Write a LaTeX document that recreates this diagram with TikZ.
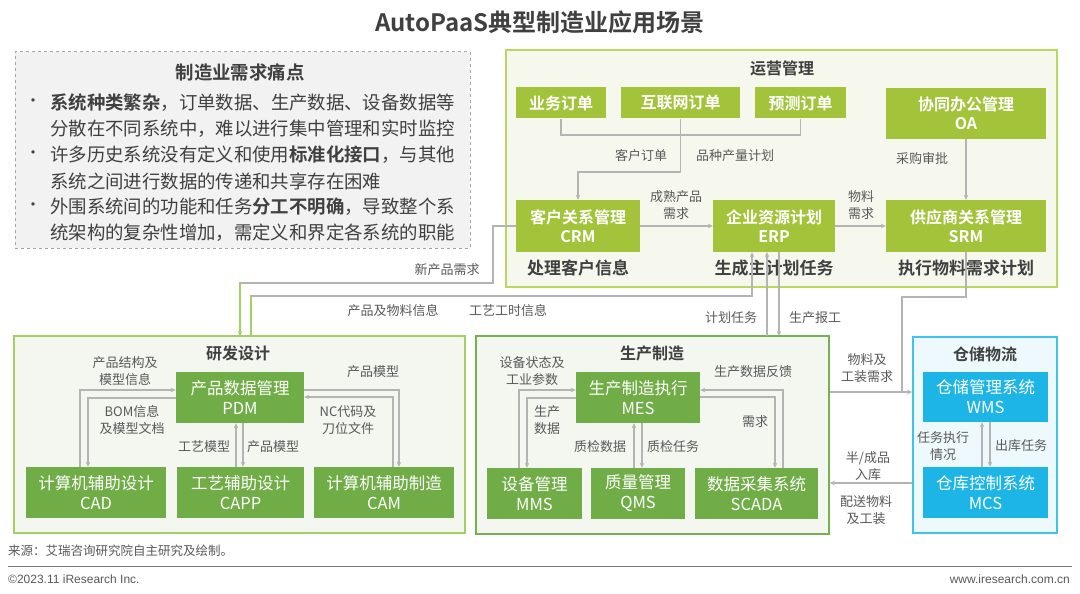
\documentclass[tikz,border=0pt]{standalone}
\usepackage{fontspec}
\setmainfont{Noto Sans CJK SC}[BoldFont={Noto Sans CJK SC Bold}]
\newfontfamily\latinf{Liberation Sans}
\usetikzlibrary{arrows.meta}
\definecolor{ygreen}{HTML}{A3C43A}
\definecolor{opsb}{HTML}{BCD75E}
\definecolor{opsf}{HTML}{F6F8EE}
\definecolor{mgreen}{HTML}{70AD47}
\definecolor{rdb}{HTML}{A2D062}
\definecolor{pmb}{HTML}{76B150}
\definecolor{gfill}{HTML}{F3F7EF}
\definecolor{cyanb}{HTML}{1DB4E6}
\definecolor{whb}{HTML}{3CC4EE}
\definecolor{whf}{HTML}{EDF9FD}
\definecolor{lgray}{HTML}{B4B4B4}
\definecolor{lblgray}{HTML}{595959}
\definecolor{darkt}{HTML}{404040}
\definecolor{painf}{HTML}{F2F2F2}
\definecolor{paind}{HTML}{A6A6A6}
\newcommand{\myfs}[2]{\fontsize{#1}{#2}\selectfont}
\begin{document}
\begin{tikzpicture}[x=1pt,y=-1pt,
  ybox/.style={fill=ygreen,text=white,font=\myfs{16}{19.5}\bfseries,inner sep=0pt,align=center},
  gbox/.style={fill=mgreen,text=white,font=\myfs{16.5}{20},inner sep=0pt,align=center},
  cbox/.style={fill=cyanb,text=white,font=\myfs{16.5}{20},inner sep=0pt,align=center},
  lbl/.style={text=lblgray,font=\myfs{13}{16.5},align=center,inner sep=0pt},
  sub/.style={text=darkt,font=\myfs{17}{20}\bfseries,inner sep=0pt},
  ttl/.style={text=darkt,font=\myfs{16}{19}\bfseries,inner sep=0pt},
  conn/.style={draw=lgray,line width=1.2pt},
  arr/.style={conn,-{Stealth[length=5pt,width=4.5pt]}},
  frame/.style={inner sep=0pt,line width=1.5pt},
  painline/.style={text=darkt,font=\myfs{18.4}{22},anchor=west,inner sep=0pt}]
\fill[white] (0,0) rectangle (1080,594);
\useasboundingbox (0,0) rectangle (1080,594);

% title
\node[text=darkt,font=\myfs{24}{28}\bfseries,inner sep=0pt] (title) at (540,22) {AutoPaaS典型制造业应用场景};

% pain points box
\node[draw=paind,dashed,fill=painf,line width=1pt,minimum width=455pt,minimum height=196pt,inner sep=0pt] (pain) at (242.5,150) {};
\node[text=darkt,font=\myfs{18.4}{22}\bfseries,inner sep=0pt] (painttl) at (240,72) {制造业需求痛点};
\node[painline] (p1) at (50,103) {\textbf{系统种类繁杂}，订单数据、生产数据、设备数据等};
\node[painline] (p2) at (50,129) {分散在不同系统中，难以进行集中管理和实时监控};
\node[painline] (p3) at (50,155) {许多历史系统没有定义和使用\textbf{标准化接口}，与其他};
\node[painline] (p4) at (50,181) {系统之间进行数据的传递和共享存在困难};
\node[painline] (p5) at (50,207) {外围系统间的功能和任务\textbf{分工不明确}，导致整个系};
\node[painline] (p6) at (50,233) {统架构的复杂性增加，需定义和界定各系统的职能};
\node[text=darkt,font=\myfs{16}{20},inner sep=0pt] (b1) at (33,103) {•};
\node[text=darkt,font=\myfs{16}{20},inner sep=0pt] (b2) at (33,155) {•};
\node[text=darkt,font=\myfs{16}{20},inner sep=0pt] (b3) at (33,207) {•};

% operations frame
\node[frame,draw=opsb,fill=opsf,minimum width=551pt,minimum height=237pt] (ops) at (781.5,168.5) {};
\node[ttl] (opsttl) at (782,68) {运营管理};
\node[ybox,minimum width=90pt,minimum height=31pt] (yw) at (561,103) {业务订单};
\node[ybox,minimum width=119pt,minimum height=31pt] (hlw) at (680.5,103) {互联网订单};
\node[ybox,minimum width=91pt,minimum height=31pt] (yc) at (800.5,103) {预测订单};
\node[ybox,minimum width=160pt,minimum height=51pt] (oa) at (966,113.5) {协同办公管理\\OA};
\node[ybox,minimum width=124pt,minimum height=52pt] (crm) at (578,226) {客户关系管理\\CRM};
\node[ybox,minimum width=122pt,minimum height=52pt] (erp) at (774,226) {企业资源计划\\ERP};
\node[ybox,minimum width=160pt,minimum height=52pt] (srm) at (966,226) {供应商关系管理\\SRM};
\node[sub] (crmsub) at (578,268) {处理客户信息};
\node[sub] (erpsub) at (774,268) {生成主计划任务};
\node[sub] (srmsub) at (966,268) {执行物料需求计划};

% R&D frame
\node[frame,draw=rdb,fill=gfill,minimum width=451pt,minimum height=197pt] (rd) at (239.5,434.5) {};
\node[ttl] (rdttl) at (238,353) {研发设计};
\node[gbox,minimum width=128pt,minimum height=51pt] (pdm) at (240,397.5) {产品数据管理\\PDM};
\node[gbox,minimum width=140pt,minimum height=51pt] (cad) at (96,492.5) {计算机辅助设计\\CAD};
\node[gbox,minimum width=127pt,minimum height=51pt] (capp) at (240.5,492.5) {工艺辅助设计\\CAPP};
\node[gbox,minimum width=140pt,minimum height=51pt] (cam) at (384,492.5) {计算机辅助制造\\CAM};

% production frame
\node[frame,draw=pmb,fill=gfill,minimum width=353pt,minimum height=198pt] (pm) at (652.5,435) {};
\node[ttl] (pmttl) at (652,353) {生产制造};
\node[gbox,minimum width=124pt,minimum height=51pt] (mes) at (638,397.5) {生产制造执行\\MES};
\node[gbox,minimum width=95pt,minimum height=51pt] (mms) at (534.5,493.5) {设备管理\\MMS};
\node[gbox,minimum width=94pt,minimum height=51pt] (qms) at (638,493.5) {质量管理\\QMS};
\node[gbox,minimum width=123pt,minimum height=51pt] (scada) at (756.5,493.5) {数据采集系统\\SCADA};

% warehouse frame
\node[frame,draw=whb,fill=whf,minimum width=144pt,minimum height=196pt] (wh) at (985,435) {};
\node[ttl] (whttl) at (985,354) {仓储物流};
\node[cbox,minimum width=125pt,minimum height=50pt] (wms) at (985.5,397) {仓储管理系统\\WMS};
\node[cbox,minimum width=125pt,minimum height=51pt] (mcs) at (985.5,492.5) {仓库控制系统\\MCS};

% helper coordinates
\coordinate (k1) at (0,135);
\coordinate (k2) at (0,172);
\coordinate (a1) at (493,283);
\coordinate (rdin) at (240,336);
\coordinate (rdout) at (251,336);
\coordinate (bb) at (752,296);
\coordinate (e1) at (767,336);
\coordinate (e2) at (779,336);
\coordinate (s1) at (902,297);
\coordinate (s2) at (902,392);
\coordinate (h1) at (0,483);
\coordinate (m1) at (519,390);
\coordinate (m2) at (527,398);
\coordinate (q1) at (634,0);
\coordinate (q2) at (642,0);
\coordinate (sc1) at (783,390);
\coordinate (sc2) at (775,397);
\coordinate (r1) at (80,390);
\coordinate (r2) at (88,398);
\coordinate (c1) at (236,0);
\coordinate (c2) at (243,0);
\coordinate (r3) at (399,390);
\coordinate (r4) at (393,397);
\coordinate (w1) at (982,0);
\coordinate (w2) at (990,0);

% ops connectors
\draw[conn] (yw.south) |- (yc.south |- k1) -- (yc.south);
\draw[arr] (hlw.south) |- (crm.north |- k2) -- (crm.north);
\draw[arr] (oa.south) -- (srm.north);
\draw[arr] (crm.east) -- (erp.west);
\draw[arr] (erp.east) -- (srm.west);
\node[lbl] (lk1) at (641,156) {客户订单};
\node[lbl] (lk2) at (735,156) {品种产量计划};
\node[lbl] (lk3) at (922,159) {采购审批};
\node[lbl] (lk4) at (676,205) {成熟产品\\需求};
\node[lbl] (lk5) at (861,205) {物料\\需求};

% CRM -> R&D, R&D -> ERP
\draw[conn] (crm.west) -| (a1) -| (rdin);
\draw[-{Stealth[length=5pt,width=4.5pt]},draw=rdb,line width=1.2pt] (rdin |- a1) -- (rdin);
\draw[arr] (rdout) |- (bb) -- (bb |- erp.south);
\draw[draw=rdb,line width=1.2pt] (rdout |- bb) -- (rdout);
\node[lbl] (lk6) at (447,270) {新产品需求};
\node[lbl] (lk7) at (393,311) {产品及物料信息};
\node[lbl] (lk8) at (508,311) {工艺工时信息};

% ERP <-> production
\draw[arr] (e1) -- (e1 |- erp.south);
\draw[arr] (e2 |- erp.south) -- (e2);
\node[lbl] (lk9) at (731,318) {计划任务};
\node[lbl] (lk10) at (815,318) {生产报工};

% SRM / production -> warehouse
\draw[conn] (srm.south) |- (s1) -- (s2);
\draw[arr] (pm.east |- s2) -- (wh.west |- s2);
\node[lbl] (lk11) at (867,368) {物料及\\工装需求};
\draw[arr] (wh.west |- h1) -- (pm.east |- h1);
\node[lbl] (lk12) at (868,466) {半/成品\\入库};
\node[lbl] (lk13) at (866,510) {配送物料\\及工装};

% warehouse internal
\draw[arr] (mcs.north -| w1) -- (wms.south -| w1);
\draw[arr] (wms.south -| w2) -- (mcs.north -| w2);
\node[lbl] (lk14) at (943,446) {任务执行\\情况};
\node[lbl] (lk15) at (1021,446) {出库任务};

% production internal
\draw[arr] (mms.north -| m1) |- (mes.west |- m1);
\draw[arr] (mes.west |- m2) -| (mms.north -| m2);
\draw[arr] (qms.north -| q1) -- (mes.south -| q1);
\draw[arr] (mes.south -| q2) -- (qms.north -| q2);
\draw[arr] (scada.north -| sc1) |- (mes.east |- sc1);
\draw[arr] (mes.east |- sc2) -| (scada.north -| sc2);
\node[lbl] (lm1) at (532,371) {设备状态及\\工业参数};
\node[lbl] (lm2) at (547,420) {生产\\数据};
\node[lbl] (lm3) at (600,447) {质检数据};
\node[lbl] (lm4) at (673,447) {质检任务};
\node[lbl] (lm5) at (753,372) {生产数据反馈};
\node[lbl] (lm6) at (755,422) {需求};

% R&D internal
\draw[arr] (cad.north -| r1) |- (pdm.west |- r1);
\draw[arr] (pdm.west |- r2) -| (cad.north -| r2);
\draw[arr] (capp.north -| c1) -- (pdm.south -| c1);
\draw[arr] (pdm.south -| c2) -- (capp.north -| c2);
\draw[arr] (pdm.east |- r3) -| (cam.north -| r3);
\draw[arr] (cam.north -| r4) |- (pdm.east |- r4);
\node[lbl] (lr1) at (125,371) {产品结构及\\模型信息};
\node[lbl] (lr2) at (132,420) {BOM信息\\及模型文档};
\node[lbl] (lr3) at (204,447) {工艺模型};
\node[lbl] (lr4) at (273,447) {产品模型};
\node[lbl] (lr5) at (373,372) {产品模型};
\node[lbl] (lr6) at (348,420) {NC代码及\\刀位文件};

% footer
\node[text=lblgray,font=\myfs{12.5}{15},anchor=west,inner sep=0pt] (src) at (8,551) {来源：艾瑞咨询研究院自主研究及绘制。};
\coordinate (fl) at (8,566);
\coordinate (fr) at (1072,566);
\draw[draw=lblgray!80,line width=0.8pt] (fl) -- (fr);
\node[text=lblgray,font=\latinf\myfs{12}{14},anchor=west,inner sep=0pt] (copy) at (8,579) {©2023.11 iResearch Inc.};
\node[text=lblgray,font=\latinf\myfs{12}{14},anchor=east,inner sep=0pt] (web) at (1070,579) {www.iresearch.com.cn};
\end{tikzpicture}
\end{document}
